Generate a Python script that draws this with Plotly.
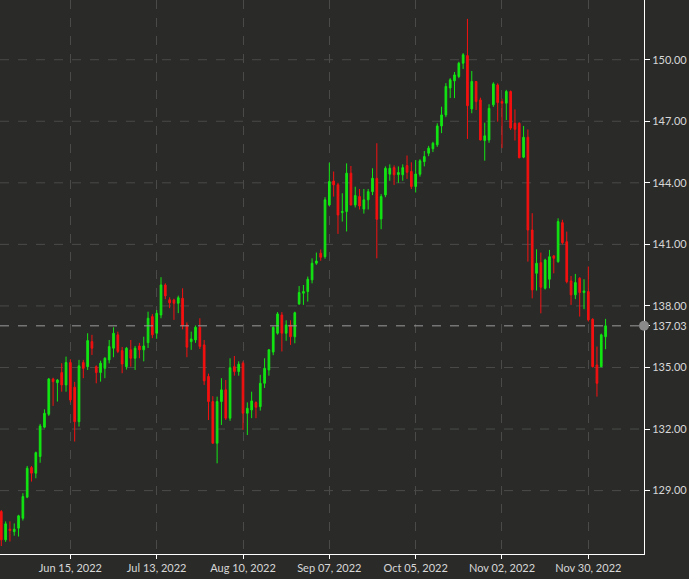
import pandas as pd
import plotly.graph_objects as go

# Trading days (weekdays) shown on the chart
dates = [d.strftime("%Y-%m-%d") for d in pd.bdate_range("2022-05-24", "2022-12-06")]

open_ = [127.98, 126.60, 127.12, 127.00, 127.17, 127.65, 128.68, 130.12, 129.85, 130.66,
         132.09, 132.72, 134.44, 134.26, 134.75, 134.15, 135.24, 134.04, 132.36, 135.24,
         135.04, 136.26, 135.04, 134.75, 134.96, 135.37, 135.94, 136.59, 135.82, 135.04,
         135.86, 135.45, 136.05, 135.86, 136.21, 137.48, 136.67, 137.56, 139.02, 138.30,
         138.29, 138.13, 138.37, 137.07, 136.26, 136.34, 136.96, 136.10, 134.56, 133.34,
         131.31, 133.34, 133.91, 132.53, 135.04, 134.80, 135.21, 132.77, 132.93, 133.29,
         133.09, 134.23, 134.88, 135.75, 136.67, 137.56, 136.67, 137.07, 136.50, 138.10,
         138.62, 138.70, 139.27, 140.08, 140.57, 140.40, 142.92, 144.09, 143.90, 142.55,
         142.60, 144.47, 142.92, 143.33, 142.72, 143.17, 143.57, 144.22, 142.24, 143.41,
         144.42, 144.74, 144.40, 144.39, 144.84, 144.55, 143.82, 144.42, 145.03, 145.44,
         145.66, 145.85, 146.77, 147.31, 148.62, 148.97, 149.18, 149.83, 150.20, 147.60,
         148.94, 148.04, 146.06, 146.09, 147.80, 148.77, 147.96, 147.88, 148.45, 146.90,
         146.90, 145.25, 146.22, 141.70, 139.59, 140.11, 138.86, 139.30, 140.44, 140.16,
         142.06, 141.13, 139.22, 138.54, 139.35, 138.65, 138.70, 137.35, 135.12, 135.04,
         136.50]
high = [128.05, 127.50, 127.50, 127.40, 127.82, 128.87, 130.20, 130.20, 130.90, 132.25,
        132.96, 134.49, 134.50, 134.44, 135.21, 135.53, 135.40, 134.30, 135.37, 135.37,
        136.67, 136.59, 135.10, 135.33, 135.50, 136.34, 136.96, 136.75, 136.00, 136.00,
        136.34, 136.05, 136.20, 136.50, 137.72, 137.60, 137.80, 139.40, 139.10, 138.42,
        138.35, 138.50, 138.86, 137.20, 136.75, 137.05, 137.40, 136.34, 134.70, 133.60,
        133.58, 134.48, 134.39, 135.45, 135.56, 135.30, 135.30, 133.30, 133.82, 133.35,
        134.64, 135.45, 135.90, 137.00, 137.70, 137.70, 137.30, 137.30, 137.72, 138.97,
        139.02, 139.43, 140.32, 140.60, 140.75, 143.30, 144.98, 144.55, 144.00, 143.49,
        144.95, 144.82, 143.81, 143.70, 143.70, 143.70, 144.71, 145.93, 143.45, 144.80,
        144.90, 144.85, 144.80, 144.90, 145.33, 145.00, 145.11, 145.15, 145.55, 145.80,
        146.00, 146.90, 147.71, 148.86, 149.10, 149.40, 149.90, 150.32, 151.99, 149.45,
        148.95, 148.15, 146.93, 147.83, 148.90, 148.85, 148.10, 148.53, 148.50, 147.58,
        146.95, 146.77, 146.60, 142.52, 140.76, 140.60, 140.30, 140.73, 140.46, 142.27,
        142.20, 141.62, 139.46, 139.56, 139.40, 139.30, 139.92, 137.40, 136.02, 136.65,
        137.37]
low = [126.30, 126.50, 126.52, 126.80, 126.76, 127.54, 128.63, 129.44, 129.60, 130.36,
       132.04, 132.64, 133.13, 133.34, 133.82, 133.82, 133.30, 131.39, 132.12, 134.48,
       134.88, 135.61, 134.23, 134.31, 134.48, 135.20, 135.50, 135.70, 134.72, 134.90,
       135.04, 134.88, 135.45, 135.30, 135.95, 136.43, 136.40, 137.40, 138.33, 137.89,
       137.32, 137.65, 136.86, 135.50, 135.86, 136.20, 135.90, 134.15, 132.44, 131.30,
       130.33, 132.20, 132.44, 132.40, 134.60, 134.60, 131.96, 131.71, 132.53, 132.53,
       132.90, 134.00, 134.60, 135.60, 136.60, 135.78, 136.30, 136.10, 136.18, 138.05,
       138.05, 138.21, 139.10, 140.00, 140.20, 140.30, 142.87, 143.33, 141.51, 142.11,
       141.63, 142.90, 142.80, 142.70, 142.50, 142.70, 143.40, 140.32, 141.74, 143.30,
       144.10, 143.90, 144.00, 144.10, 144.19, 143.70, 143.53, 144.30, 144.80, 145.30,
       145.50, 145.75, 146.42, 147.20, 148.13, 148.13, 149.10, 149.55, 146.14, 147.39,
       147.55, 146.06, 145.08, 145.95, 147.70, 146.98, 145.69, 147.06, 146.58, 146.06,
       145.20, 145.20, 140.16, 138.37, 138.75, 137.64, 138.80, 138.86, 139.59, 140.10,
       141.00, 139.10, 138.05, 138.33, 137.48, 137.84, 137.24, 135.00, 133.58, 135.01,
       135.89]
close = [126.60, 127.38, 127.05, 127.12, 127.77, 128.71, 130.09, 129.85, 130.85, 132.15,
         132.77, 134.44, 134.31, 134.39, 134.15, 135.24, 133.42, 132.36, 135.08, 134.96,
         136.31, 135.94, 134.75, 135.21, 135.45, 136.02, 136.67, 135.78, 135.17, 135.94,
         135.45, 135.94, 135.86, 136.05, 137.40, 136.59, 137.64, 139.02, 138.49, 138.15,
         138.13, 138.40, 137.03, 135.99, 136.39, 136.96, 136.02, 134.35, 133.34, 131.31,
         133.34, 133.91, 132.53, 134.99, 134.80, 135.16, 132.77, 133.01, 133.37, 133.06,
         134.23, 134.96, 135.86, 136.96, 137.61, 136.67, 137.07, 136.50, 137.67, 138.65,
         138.70, 139.30, 140.08, 140.19, 140.37, 143.17, 144.06, 143.90, 142.43, 142.60,
         144.47, 142.92, 143.38, 142.87, 143.17, 143.57, 144.22, 142.22, 143.33, 144.71,
         144.71, 144.39, 144.50, 144.74, 144.51, 143.82, 144.43, 145.07, 145.28, 145.69,
         145.93, 146.77, 147.31, 148.70, 149.02, 149.26, 149.83, 150.24, 147.76, 148.94,
         147.96, 146.09, 146.29, 147.63, 148.82, 147.91, 147.88, 148.45, 146.67, 146.61,
         145.22, 146.22, 141.70, 138.78, 140.08, 138.91, 140.24, 140.40, 140.32, 142.11,
         141.08, 139.18, 138.54, 139.14, 138.65, 138.73, 137.32, 135.04, 134.23, 136.59,
         137.03]

x_ticks = ["2022-06-15", "2022-07-13", "2022-08-10", "2022-09-07",
           "2022-10-05", "2022-11-02", "2022-11-30"]
x_tick_text = ["Jun 15, 2022", "Jul 13, 2022", "Aug 10, 2022", "Sep 07, 2022",
               "Oct 05, 2022", "Nov 02, 2022", "Nov 30, 2022"]
y_ticks = [129, 132, 135, 138, 141, 144, 147, 150]
last_price = 137.03

GREEN = "#12e612"
RED = "#f51010"
BG = "#2a2b29"
GRID = "#4a4b48"
TXT = "#d8d8d8"
FONT = "Source Sans Pro, Lato, sans-serif"

fig = go.Figure()
fig.add_trace(go.Candlestick(
    x=dates, open=open_, high=high, low=low, close=close,
    increasing=dict(line=dict(color=GREEN, width=1), fillcolor=GREEN),
    decreasing=dict(line=dict(color=RED, width=1), fillcolor=RED),
    whiskerwidth=0, showlegend=False,
))

tickvals_y = y_ticks + [last_price]
ticktext_y = [f"{v:.2f}" for v in y_ticks] + [f"{last_price:.2f}"]

fig.update_layout(
    width=689, height=579,
    margin=dict(l=0, r=45, t=0, b=25, pad=0),
    paper_bgcolor=BG, plot_bgcolor=BG,
    boxgap=0.45,
    font=dict(family=FONT, size=11, color=TXT),
    showlegend=False,
    xaxis=dict(
        type="category", range=[-0.3, 148.9],
        rangeslider=dict(visible=False),
        tickmode="array", tickvals=x_ticks, ticktext=x_tick_text,
        showgrid=True, gridcolor=GRID, griddash="dash", gridwidth=1,
        showline=True, linecolor="#ffffff", linewidth=1,
        ticks="outside", ticklen=4, tickcolor="#ffffff",
        tickfont=dict(family=FONT, size=11, color=TXT),
        zeroline=False, fixedrange=True, automargin=False,
    ),
    yaxis=dict(
        side="right", range=[125.91, 152.91],
        tickmode="array", tickvals=tickvals_y, ticktext=ticktext_y,
        showgrid=False,
        showline=True, linecolor="#ffffff", linewidth=1,
        ticks="outside", ticklen=5, tickcolor="#ffffff",
        tickfont=dict(family=FONT, size=11, color=TXT),
        zeroline=False, fixedrange=True, automargin=False,
    ),
)

# horizontal dashed grid at the regular ticks
for v in y_ticks:
    fig.add_shape(type="line", xref="paper", yref="y", x0=0, x1=1, y0=v, y1=v,
                  line=dict(color=GRID, width=1, dash="dash"), layer="below")

# last price line and marker
fig.add_shape(type="line", xref="paper", yref="y", x0=0, x1=1, y0=last_price, y1=last_price,
              line=dict(color="#9a9a9a", width=1, dash="dash"), layer="above")
fig.add_shape(type="circle", xref="paper", yref="y", xsizemode="pixel", ysizemode="pixel",
              xanchor=1, yanchor=last_price, x0=-5, x1=5, y0=-5, y1=5,
              fillcolor="#8a8a8a", line=dict(color="#8a8a8a", width=0), layer="above")

fig.write_html("out.html", config={"displayModeBar": False},
               post_script="document.body.style.margin='0';document.body.style.background='%s';" % BG)
